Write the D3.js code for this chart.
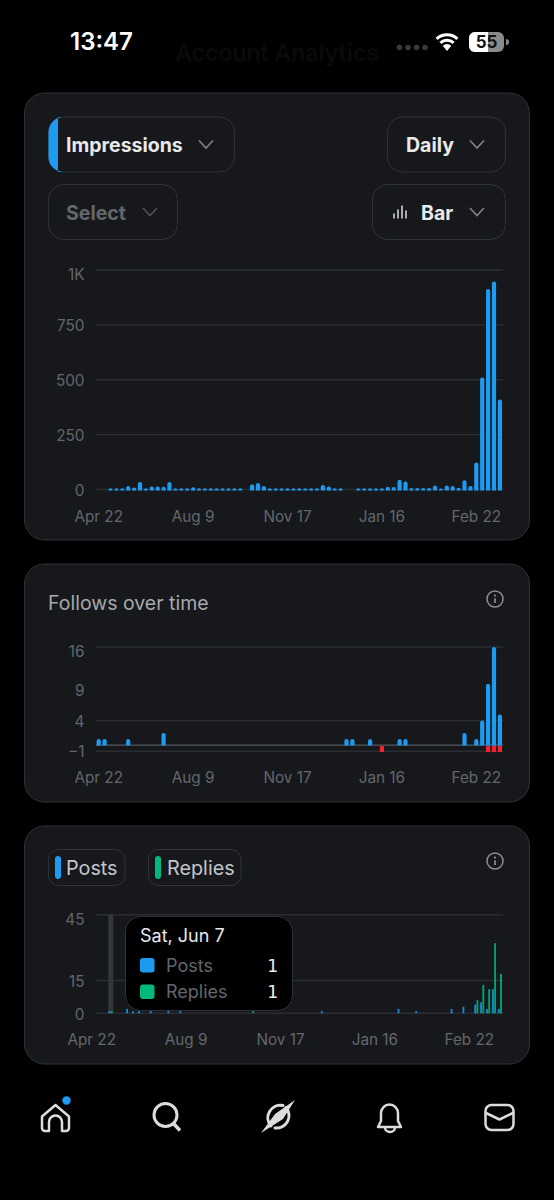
<!DOCTYPE html>
<html>
<head>
<meta charset="utf-8">
<script src="https://cdn.jsdelivr.net/npm/d3@7"></script>
<style>
html,body{margin:0;padding:0;background:#000;}
svg{display:block;}
text{font-family:Inter,"Noto Sans",sans-serif;}
</style>
</head>
<body>
<div id="page"></div>
<script>
// Daily slots on the shared time axis, and the dates that get a label
const slotCount = 69;
const xTickSlots = [0, 16, 32, 48, 64];
const xTickLabels = ["Apr 22", "Aug 9", "Nov 17", "Jan 16", "Feb 22"];

// Impressions per day
const impressions = [
  0, 0, 6, 6, 6, 16, 9, 34, 6, 14, 14, 12, 34, 6, 6, 6, 10, 6, 6, 6, 6, 6, 6, 6, 6, 0,
  24, 30, 16, 6, 6, 6, 6, 6, 6, 6, 6, 6, 20, 14, 6, 6, 0, 0, 6, 6, 6, 6, 6, 12, 11,
  44, 36, 7, 7, 7, 7, 18, 4, 18, 16, 8, 42, 16, 123, 510, 914, 948, 410
];
const impressionTicks = [0, 250, 500, 750, 1000];
const impressionTickLabels = ["0", "250", "500", "750", "1K"];

// Follows gained and lost per day, as [slot, value]
const follows = [
  [0, 1], [1, 1], [5, 1], [11, 2], [42, 1], [43, 1], [46, 1], [51, 1], [52, 1],
  [62, 2], [64, 1], [65, 4], [66, 10], [67, 16], [68, 5]
];
const unfollows = [[48, -1], [66, -1], [67, -1], [68, -1]];
const followTicks = [-1, 4, 9, 16];
const followGrid = [-1, 4, 16];

// Posts and replies per day, as [slot, value]
const posts = [
  [2, 1], [5, 2], [6, 1], [7, 1], [9, 1], [12, 1], [14, 1], [38, 1], [51, 2], [54, 1],
  [60, 2], [62, 3], [64, 4], [65, 5], [66, 2], [67, 11], [68, 2]
];
const replies = [[2, 1], [26, 1], [64, 6], [65, 13], [66, 11], [67, 32], [68, 18]];
const activityTicks = [0, 15, 45];

const tooltipTitle = "Sat, Jun 7";
const tooltipRows = [["Posts", 1], ["Replies", 1]];

const BLUE = "#1d9bf0", GREEN = "#00ba7c", RED = "#f4212e";
const CARD = "#16181c", EDGE = "#2f3336", GRID = "#2a2c31", TICK = "#63676c";

const svg = d3.select("#page").append("svg").attr("width", 554).attr("height", 1200);
svg.append("rect").attr("width", 554).attr("height", 1200).attr("fill", "#000");

const x = d3.scaleBand().domain(d3.range(slotCount)).range([95.75, 502.85]).paddingInner(0);

// A bar with a rounded end pointing away from the baseline
function roundedBar(cx, w, y0, y1) {
  const h = y0 - y1, r = Math.min(w / 2, h), l = cx - w / 2;
  return `M${l},${y0}V${y1 + r}Q${l},${y1} ${l + r},${y1}H${l + w - r}Q${l + w},${y1} ${l + w},${y1 + r}V${y0}Z`;
}

function card(y, h) {
  svg.append("rect").attr("x", 24.5).attr("y", y).attr("width", 505).attr("height", h)
    .attr("rx", 20).attr("fill", CARD).attr("stroke", EDGE).attr("stroke-width", 1);
}

function chevron(cx, cy, color) {
  svg.append("path").attr("d", `M${cx - 7},${cy - 4}L${cx},${cy + 3.5}L${cx + 7},${cy - 4}`)
    .attr("fill", "none").attr("stroke", color).attr("stroke-width", 1.6);
}

function pill(x0, y0, w, h, r) {
  svg.append("rect").attr("x", x0).attr("y", y0).attr("width", w).attr("height", h).attr("rx", r)
    .attr("fill", "none").attr("stroke", EDGE).attr("stroke-width", 1);
}

function label(txt, px, py, size, weight, color, anchor) {
  return svg.append("text").attr("x", px).attr("y", py).attr("dy", "0.36em")
    .attr("font-size", size).attr("font-weight", weight).attr("fill", color)
    .attr("text-anchor", anchor || "start").text(txt);
}

function infoIcon(cx, cy) {
  svg.append("circle").attr("cx", cx).attr("cy", cy).attr("r", 8).attr("fill", "none")
    .attr("stroke", "#8b8f94").attr("stroke-width", 1.5);
  svg.append("circle").attr("cx", cx).attr("cy", cy - 3.4).attr("r", 1.1).attr("fill", "#8b8f94");
  svg.append("line").attr("x1", cx).attr("x2", cx).attr("y1", cy - 0.8).attr("y2", cy + 4)
    .attr("stroke", "#8b8f94").attr("stroke-width", 1.7);
}

// Gridlines plus the left and bottom tick labels of one chart
function frame(y, grid, ticks, format, labelY, bottomY, xShift) {
  const g = svg.append("g");
  g.selectAll("line").data(grid).join("line")
    .attr("x1", 96).attr("x2", 503).attr("y1", d => y(d)).attr("y2", d => y(d))
    .attr("stroke", GRID).attr("stroke-width", 1.4);

  const left = d3.axisLeft(y).tickValues(ticks).tickFormat(format).tickSize(0).tickPadding(0);
  const la = svg.append("g").attr("transform", "translate(84.5,0)").call(left);
  la.select(".domain").remove();
  la.selectAll("text").attr("font-size", 15.3).attr("fill", TICK)
    .attr("font-family", "Inter,'Noto Sans',sans-serif")
    .attr("y", d => labelY(d) - y(d)).attr("dy", "0.36em");

  const bottom = d3.axisBottom(x).tickValues(xTickSlots)
    .tickFormat(d => xTickLabels[xTickSlots.indexOf(d)]).tickSize(0).tickPadding(0);
  const ba = svg.append("g").attr("transform", `translate(${xShift},${bottomY})`).call(bottom);
  ba.select(".domain").remove();
  ba.selectAll("text").attr("font-size", 15.3).attr("fill", TICK)
    .attr("font-family", "Inter,'Noto Sans',sans-serif").attr("y", 0).attr("dy", "0.36em");
}

/* Status bar */
label("13:47", 70, 41, 24, 600, "#fff");
label("Account Analytics", 277, 53, 23, 600, "#0a0a0a", "middle");
svg.append("g").selectAll("circle").data([399.5, 408, 416.5, 425]).join("circle")
  .attr("cx", d => d).attr("cy", 47.5).attr("r", 2.8).attr("fill", "#3a3a3c");
[16.5, 11, 5.6].forEach(r => {
  svg.append("path")
    .attr("d", d3.arc().innerRadius(r - 2.8).outerRadius(r + 0.3)
      .startAngle(-Math.PI / 4.2).endAngle(Math.PI / 4.2)())
    .attr("transform", "translate(447,50)").attr("fill", "#fff");
});
svg.append("path").attr("d", "M447,51L443,46A6,6 0 0 1 451,46Z").attr("fill", "#fff");
svg.append("rect").attr("x", 469).attr("y", 32).attr("width", 35).attr("height", 20).attr("rx", 6).attr("fill", "#8a8a8c");
svg.append("path").attr("d", "M475,32H488V52H475A6,6 0 0 1 469,46V38A6,6 0 0 1 475,32Z").attr("fill", "#fff");
svg.append("path").attr("d", "M506,39V45A3,3 0 0 0 506,39Z").attr("fill", "#8a8a8c");
label("55", 486.5, 42, 17, 700, "#111", "middle");

/* Impressions card */
card(93, 447);
pill(48.5, 117, 186, 55, 15);
svg.append("path").attr("d", "M58,117H63.5A15,15 0 0 0 48.5,132V157A15,15 0 0 0 63.5,172H58Z").attr("fill", BLUE);
label("Impressions", 66, 145, 19.5, 700, "#e7e9ea");
chevron(206, 144.5, "#808488");
pill(387.5, 117, 118, 55, 15);
label("Daily", 406, 145, 19.5, 700, "#e7e9ea");
chevron(477, 144.5, "#808488");
pill(48.5, 184.5, 129, 55, 15);
label("Select", 66, 212.5, 19.5, 700, "#63676c");
chevron(150, 212, "#4c4f54");
pill(372.5, 184.5, 133, 55, 15);
[[394, 5], [398, 9], [402, 13], [406, 8]].forEach(([bx, bh]) => {
  svg.append("line").attr("x1", bx).attr("x2", bx).attr("y1", 218.5 - bh).attr("y2", 218.5)
    .attr("stroke", "#dcdfe2").attr("stroke-width", 1.5);
});
label("Bar", 421, 212.5, 19.5, 700, "#e7e9ea");
chevron(477, 212, "#808488");

const yImp = d3.scaleLinear().domain([0, 1000]).range([489.5, 270]);
frame(yImp, impressionTicks, impressionTicks,
  d => impressionTickLabels[impressionTicks.indexOf(d)],
  d => d === 1000 ? 273.5 : yImp(d) + 0.5, 516, 0);
svg.append("g").selectAll("path").data(impressions.map((v, i) => [i, v]).filter(d => d[1] > 0)).join("path")
  .attr("d", ([i, v]) => roundedBar(x(i) + x.bandwidth() / 2, 4.2, 490.5, yImp(v)))
  .attr("fill", BLUE);

/* Follows card */
card(564, 238);
label("Follows over time", 48, 603, 19.5, 400, "#a6a9ad");
infoIcon(495, 599);

const yFol = d3.scaleLinear().domain([-1, 16]).range([751.3, 647]);
frame(yFol, followGrid, followTicks, d => d === -1 ? "\u22121" : d,
  d => d === 16 ? 651 : yFol(d) + (d === -1 ? 0 : 0.3), 777, 0);
svg.append("line").attr("x1", 96).attr("x2", 503).attr("y1", yFol(0)).attr("y2", yFol(0))
  .attr("stroke", "#55585c").attr("stroke-width", 1.4);
svg.append("g").selectAll("path").data(follows).join("path")
  .attr("d", ([i, v]) => roundedBar(x(i) + x.bandwidth() / 2, 4.2, yFol(0) + 0.3, yFol(v)))
  .attr("fill", BLUE);
svg.append("g").selectAll("rect").data(unfollows).join("rect")
  .attr("x", ([i]) => x(i) + x.bandwidth() / 2 - 2.1).attr("width", 4.2)
  .attr("y", yFol(0) + 0.8).attr("height", ([, v]) => yFol(v) - yFol(0))
  .attr("fill", RED);

/* Posts and replies card */
card(826, 238);
pill(48.5, 849.5, 76.5, 36, 10);
svg.append("rect").attr("x", 55).attr("y", 856).attr("width", 6).attr("height", 23).attr("rx", 3).attr("fill", BLUE);
label("Posts", 66, 868, 19.8, 400, "#c3c6ca");
pill(148.5, 849.5, 92.5, 36, 10);
svg.append("rect").attr("x", 155).attr("y", 856).attr("width", 6).attr("height", 23).attr("rx", 3).attr("fill", GREEN);
label("Replies", 167, 868, 19.8, 400, "#c3c6ca");
infoIcon(495, 861);

const yAct = d3.scaleLinear().domain([0, 45]).range([1013.3, 914.7]);
frame(yAct, activityTicks, activityTicks, d => d,
  d => d === 45 ? 919 : yAct(d) + 0.7, 1039, -7);

// Hover band for the highlighted day sits behind the bars
svg.append("rect").attr("x", 108.3).attr("width", 5).attr("y", 915).attr("height", 98)
  .attr("fill", "#33363a");

const barWidth = 1.9;
[[posts, BLUE, -1.1], [replies, GREEN, 1.1]].forEach(([series, color, offset]) => {
  svg.append("g").attr("fill-opacity", 0.85).selectAll("rect").data(series).join("rect")
    .attr("x", ([i]) => x(i) + x.bandwidth() / 2 + offset - barWidth / 2)
    .attr("width", barWidth)
    .attr("y", ([, v]) => yAct(v)).attr("height", ([, v]) => yAct(0) - yAct(v))
    .attr("fill", color);
});

/* Tooltip */
svg.append("rect").attr("x", 125.5).attr("y", 916.5).attr("width", 167).attr("height", 94)
  .attr("rx", 15).attr("fill", "#000").attr("stroke", "#2f3336");
label(tooltipTitle, 140, 936, 18, 400, "#e7e9ea");
[[BLUE, 965.5], [GREEN, 992]].forEach(([color, cy], i) => {
  svg.append("rect").attr("x", 140).attr("y", cy - 7.5).attr("width", 14.5).attr("height", 14.5)
    .attr("rx", 3).attr("fill", color);
  label(tooltipRows[i][0], 166, cy, 18, 400, "#63676c");
  label(tooltipRows[i][1], 272.5, cy, 18, 400, "#e7e9ea", "middle")
    .style("font-family", "'DejaVu Sans Mono',monospace");
});

/* Bottom navigation */
const nav = svg.append("g").attr("fill", "none").attr("stroke", "#dcdcdc").attr("stroke-width", 2.5)
  .attr("stroke-linejoin", "round").attr("stroke-linecap", "round");
nav.append("path").attr("d", "M42,1116.5L55.5,1105L69,1116.5V1128A3,3 0 0 1 66,1131H62V1122A6.5,6.5 0 0 0 49,1122V1131H45A3,3 0 0 1 42,1128Z");
svg.append("circle").attr("cx", 66.5).attr("cy", 1100.5).attr("r", 4.2).attr("fill", BLUE);
nav.append("circle").attr("cx", 165.5).attr("cy", 1115).attr("r", 11.5).attr("stroke-width", 3);
nav.append("path").attr("d", "M173.5,1123.5L180,1130.5").attr("stroke-linecap", "butt").attr("stroke-width", 3.4);
nav.append("path").attr("d", "M271,1126A12.5,12.5 0 0 1 283,1105.5").attr("stroke-width", 3);
nav.append("path").attr("d", "M286,1107.5A12.5,12.5 0 0 1 275,1128").attr("stroke-width", 3);
svg.append("path").attr("d", "M295,1100L283,1119L261,1133L275,1114Z").attr("fill", "#dcdcdc");
nav.append("path").attr("d", "M378,1127L381,1121V1113.5A8.5,9 0 0 1 398,1113.5V1121L401,1127Z");
nav.append("path").attr("d", "M385,1127.5A5,4.5 0 0 0 395,1127.5");
nav.append("rect").attr("x", 485.5).attr("y", 1105).attr("width", 28).attr("height", 25).attr("rx", 6);
nav.append("path").attr("d", "M486,1113L499.5,1119.5L513,1113");
</script>
</body>
</html>
